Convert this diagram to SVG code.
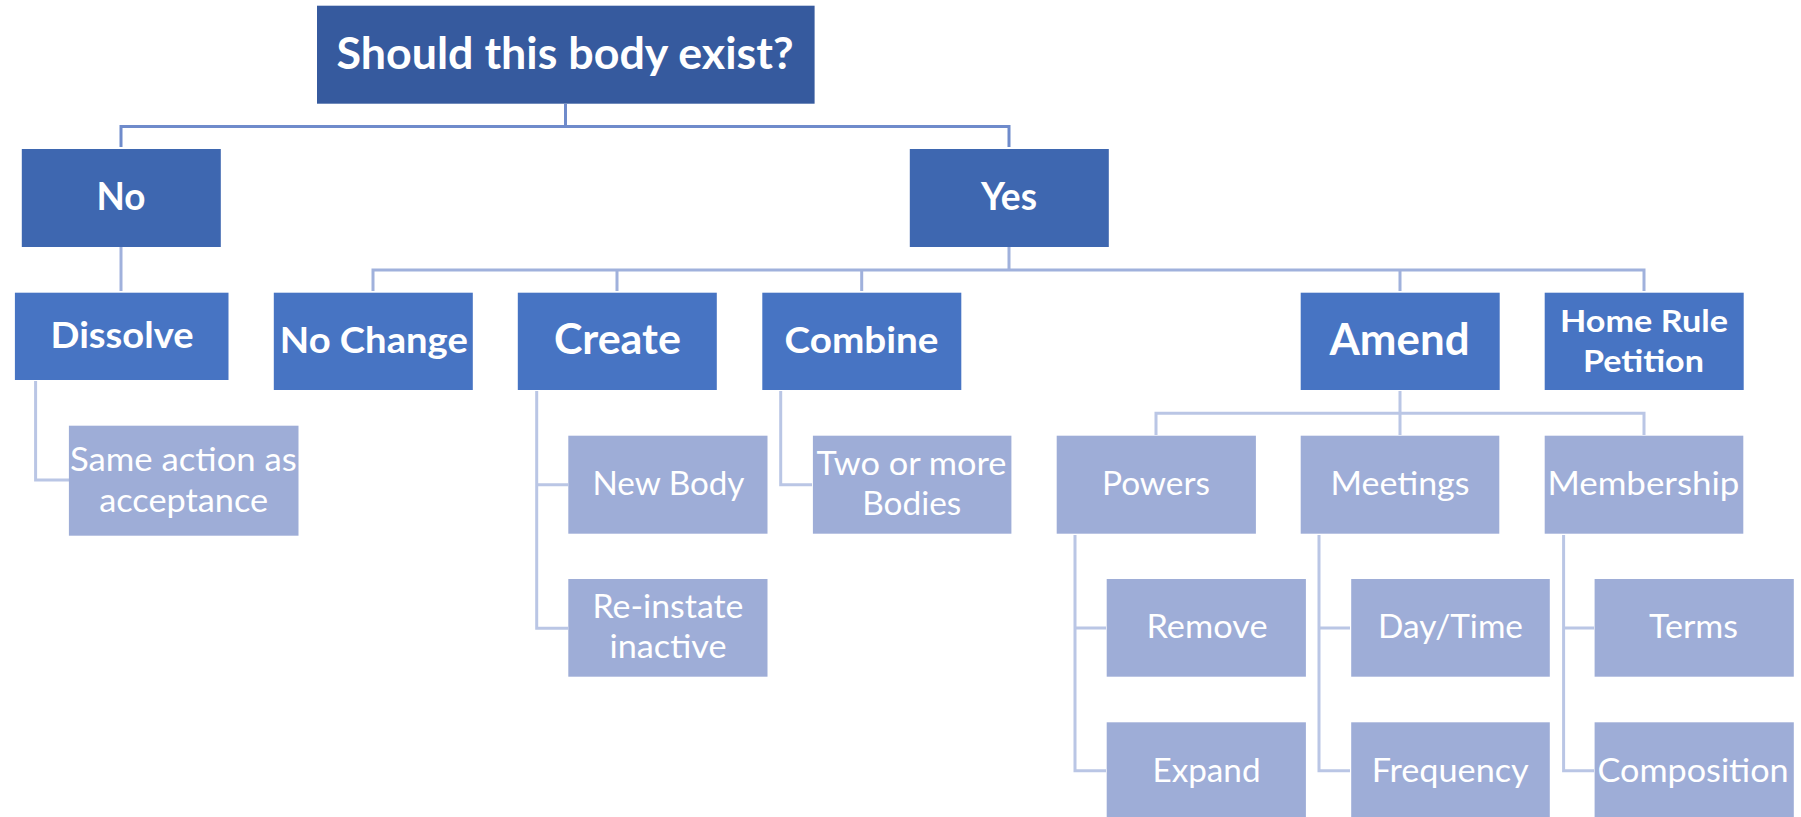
<svg xmlns="http://www.w3.org/2000/svg" width="1801" height="817" viewBox="0 0 1801 817">
<style>
.t0{fill:#365A9E}
.t1{fill:#3E67B0}
.t2{fill:#4774C3}
.t3{fill:#9EADD7}
text{fill:#fff;font-family:Lato,"Liberation Sans",sans-serif;text-anchor:middle}
.b{font-weight:bold}
.c0{stroke:#6F8BCB;stroke-width:3;fill:none}
.c1{stroke:#A0B1DC;stroke-width:3;fill:none}
.c2{stroke:#BAC6E5;stroke-width:3;fill:none}
</style>
<g id="connectors">
<path class="c0" d="M565.5,104V126.5M121,147V126.5H1009V147"/>
<path class="c1" d="M121,247V291"/>
<path class="c1" d="M1009,247V270M373,291V270H1644V291M617,270V291M861.7,270V291M1400,270V291"/>
<path class="c2" d="M35.6,381V480H69"/>
<path class="c2" d="M536.7,391V628.3H568M536.7,484.7H568"/>
<path class="c2" d="M780.7,391V484.7H812"/>
<path class="c2" d="M1400,391V435M1156,435V413.3H1644V435"/>
<path class="c2" d="M1075,535V770.7H1106M1075,628H1106"/>
<path class="c2" d="M1319,535V770.7H1350M1319,628H1350"/>
<path class="c2" d="M1563.6,535V770.7H1594M1563.6,628H1594"/>
</g>
<g id="n-root"><rect class="t0" x="317" y="5.7" width="497.6" height="98"/><text class="b" x="565" y="69.3" font-size="43" textLength="457" lengthAdjust="spacingAndGlyphs">Should this body exist?</text></g>
<g id="n-no"><rect class="t1" x="21.8" y="149" width="199" height="98"/><text class="b" x="121" y="210" font-size="38" textLength="49" lengthAdjust="spacingAndGlyphs">No</text></g>
<g id="n-yes"><rect class="t1" x="909.8" y="149" width="199" height="98"/><text class="b" x="1009" y="210" font-size="38" textLength="56" lengthAdjust="spacingAndGlyphs">Yes</text></g>
<g id="n-dissolve"><rect class="t2" x="14.9" y="292.7" width="213.6" height="87.3"/><text class="b" x="122" y="348.3" font-size="37" textLength="143" lengthAdjust="spacingAndGlyphs">Dissolve</text></g>
<g id="n-nochange"><rect class="t2" x="273.8" y="292.7" width="199" height="97.3"/><text class="b" x="373.8" y="353.3" font-size="37" textLength="188" lengthAdjust="spacingAndGlyphs">No Change</text></g>
<g id="n-create"><rect class="t2" x="517.8" y="292.7" width="199" height="97.3"/><text class="b" x="617.4" y="354" font-size="42" textLength="127" lengthAdjust="spacingAndGlyphs">Create</text></g>
<g id="n-combine"><rect class="t2" x="762.3" y="292.7" width="199" height="97.3"/><text class="b" x="861.5" y="353" font-size="37" textLength="154" lengthAdjust="spacingAndGlyphs">Combine</text></g>
<g id="n-amend"><rect class="t2" x="1300.7" y="292.7" width="199" height="97.3"/><text class="b" x="1399.5" y="355" font-size="44" textLength="140" lengthAdjust="spacingAndGlyphs">Amend</text></g>
<g id="n-homerule"><rect class="t2" x="1544.7" y="292.7" width="199" height="97.3"/><text class="b" x="1644" y="331.7" font-size="31" textLength="168" lengthAdjust="spacingAndGlyphs">Home Rule</text><text class="b" x="1643.4" y="371.7" font-size="31" textLength="121" lengthAdjust="spacingAndGlyphs">Petition</text></g>
<g id="n-same"><rect class="t3" x="68.9" y="425.7" width="229.6" height="110"/><text x="183.4" y="470.7" font-size="32.5" textLength="227" lengthAdjust="spacingAndGlyphs">Same action as</text><text x="183.7" y="511.7" font-size="32.5" textLength="169" lengthAdjust="spacingAndGlyphs">acceptance</text></g>
<g id="n-newbody"><rect class="t3" x="568.3" y="435.7" width="199.2" height="98"/><text x="668.5" y="495" font-size="32.5" textLength="152" lengthAdjust="spacingAndGlyphs">New Body</text></g>
<g id="n-reinstate"><rect class="t3" x="568.3" y="579" width="199.2" height="97.7"/><text x="668" y="618.3" font-size="32.5" textLength="151" lengthAdjust="spacingAndGlyphs">Re-instate</text><text x="668" y="658.3" font-size="32.5" textLength="117" lengthAdjust="spacingAndGlyphs">inactive</text></g>
<g id="n-twoormore"><rect class="t3" x="812.9" y="435.7" width="198.5" height="98"/><text x="911.5" y="475" font-size="32.5" textLength="190" lengthAdjust="spacingAndGlyphs">Two or more</text><text x="911.8" y="515" font-size="32.5" textLength="99" lengthAdjust="spacingAndGlyphs">Bodies</text></g>
<g id="n-powers"><rect class="t3" x="1056.7" y="435.7" width="199.2" height="98"/><text x="1156" y="495" font-size="32.5" textLength="108" lengthAdjust="spacingAndGlyphs">Powers</text></g>
<g id="n-meetings"><rect class="t3" x="1300.7" y="435.7" width="198.6" height="98"/><text x="1400" y="495" font-size="32.5" textLength="139" lengthAdjust="spacingAndGlyphs">Meetings</text></g>
<g id="n-membership"><rect class="t3" x="1544.7" y="435.7" width="198.6" height="98"/><text x="1643.4" y="495" font-size="32.5" textLength="192" lengthAdjust="spacingAndGlyphs">Membership</text></g>
<g id="n-remove"><rect class="t3" x="1106.7" y="579" width="199.2" height="97.7"/><text x="1207" y="638.3" font-size="32.5" textLength="121" lengthAdjust="spacingAndGlyphs">Remove</text></g>
<g id="n-daytime"><rect class="t3" x="1351.2" y="579" width="198.6" height="97.7"/><text x="1450.5" y="638.3" font-size="32.5" textLength="145" lengthAdjust="spacingAndGlyphs">Day/Time</text></g>
<g id="n-terms"><rect class="t3" x="1594.6" y="579" width="199.2" height="97.7"/><text x="1693.6" y="638.3" font-size="32.5" textLength="89" lengthAdjust="spacingAndGlyphs">Terms</text></g>
<g id="n-expand"><rect class="t3" x="1106.7" y="722.3" width="199.2" height="97.7"/><text x="1206.5" y="781.7" font-size="32.5" textLength="108" lengthAdjust="spacingAndGlyphs">Expand</text></g>
<g id="n-frequency"><rect class="t3" x="1351.2" y="722.3" width="198.6" height="97.7"/><text x="1450.2" y="781.7" font-size="32.5" textLength="157" lengthAdjust="spacingAndGlyphs">Frequency</text></g>
<g id="n-composition"><rect class="t3" x="1594.6" y="722.3" width="199.2" height="97.7"/><text x="1693.1" y="781.7" font-size="32.5" textLength="191" lengthAdjust="spacingAndGlyphs">Composition</text></g>
</svg>
